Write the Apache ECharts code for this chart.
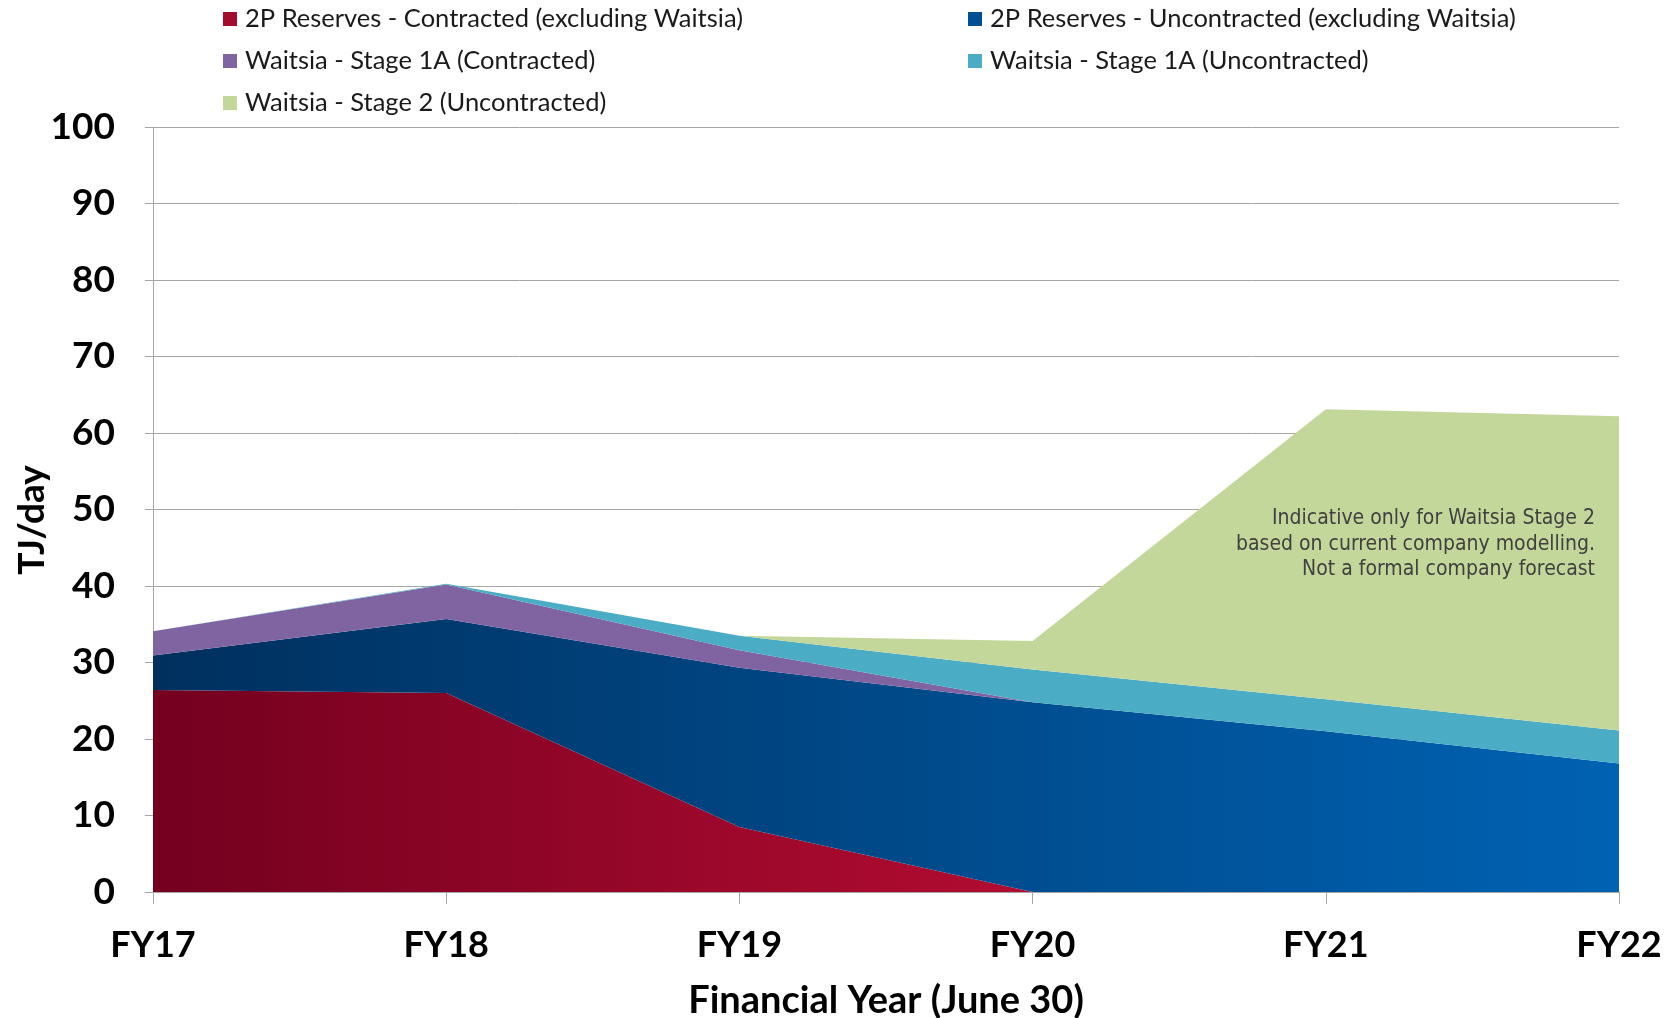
<!DOCTYPE html>
<html>
<head>
<meta charset="utf-8">
<script src="https://cdn.jsdelivr.net/npm/echarts@6/dist/echarts.min.js"></script>
<style>
  html, body { margin: 0; padding: 0; background: #fff; }
  #gas-chart { width: 1670px; height: 1018px; }
</style>
</head>
<body>
<div id="gas-chart"></div>
<script>
// 数据
const years = ["FY17", "FY18", "FY19", "FY20", "FY21", "FY22"];
const contracted2P = [26.4, 26.0, 8.5, 0, 0, 0];
const uncontracted2P = [4.5, 9.7, 20.8, 24.8, 21.0, 16.8];
const stage1AContracted = [3.2, 4.5, 2.3, 0, 0, 0];
const stage1AUncontracted = [0, 0.1, 1.9, 4.3, 4.2, 4.3];
const stage2Uncontracted = [0, 0, 0, 3.7, 37.9, 41.1];
const yTicks = [0, 10, 20, 30, 40, 50, 60, 70, 80, 90, 100];

const names = [
  "2P Reserves - Contracted (excluding Waitsia)",
  "2P Reserves - Uncontracted (excluding Waitsia)",
  "Waitsia - Stage 1A (Contracted)",
  "Waitsia - Stage 1A (Uncontracted)",
  "Waitsia - Stage 2 (Uncontracted)",
];

const note = [
  "Indicative only for Waitsia Stage 2",
  "based on current company modelling.",
  "Not a formal company forecast",
];

const tickFont = "Lato, 'Open Sans', sans-serif";
const gridColor = "#a6a6a6";

const grad = (stops) =>
  new echarts.graphic.LinearGradient(0, 0, 1, 0, stops.map((c) => ({ offset: c[0], color: c[1] })));

const area = (name, data, legendColor, fill) => ({
  name,
  type: "line",
  stack: "total",
  data,
  symbol: "none",
  showSymbol: false,
  lineStyle: { width: 0 },
  itemStyle: { color: legendColor },
  areaStyle: { color: fill, opacity: 1 },
  emphasis: { disabled: true },
});

const legendBase = {
  orient: "vertical",
  top: 1,
  icon: "rect",
  itemWidth: 14,
  itemHeight: 14,
  itemGap: 16,
  selectedMode: false,
  textStyle: { fontFamily: tickFont, fontSize: 25.5, color: "#1a1a1a", padding: [0, 0, 0, 3] },
};

const chart = echarts.init(document.getElementById("gas-chart"));
chart.setOption({
  animation: false,
  grid: { left: 153, right: 51, top: 127, bottom: 126, outerBoundsMode: "none" },
  legend: [
    { ...legendBase, left: 218, data: [names[0], names[2], names[4]] },
    { ...legendBase, left: 963, data: [names[1], names[3]] },
  ],
  xAxis: {
    type: "category",
    data: years,
    boundaryGap: false,
    name: "Financial Year (June 30)",
    nameLocation: "middle",
    nameGap: 90,
    nameTextStyle: { fontFamily: tickFont, fontWeight: "bold", fontSize: 38, color: "#000" },
    axisLine: { lineStyle: { color: gridColor, width: 1 } },
    axisTick: { alignWithLabel: true, length: 12, lineStyle: { color: gridColor } },
    axisLabel: { margin: 35, fontFamily: tickFont, fontWeight: "bold", fontSize: 36, color: "#000" },
  },
  yAxis: {
    type: "value",
    min: yTicks[0],
    max: yTicks[yTicks.length - 1],
    interval: 10,
    axisLine: { show: true, lineStyle: { color: gridColor, width: 1 } },
    axisTick: { show: true, length: 8, lineStyle: { color: gridColor } },
    splitLine: { lineStyle: { color: gridColor, width: 1 } },
    axisLabel: { margin: 38, fontFamily: tickFont, fontWeight: "bold", fontSize: 37, color: "#000" },
  },
  series: [
    area(names[0], contracted2P, "#a30c2e",
      grad([[0, "#74001f"], [0.6, "#b20c31"], [1, "#bd0f35"]])),
    area(names[1], uncontracted2P, "#004f92",
      grad([[0, "#00305e"], [1, "#0062b3"]])),
    area(names[2], stage1AContracted, "#8064a2", "#8064a2"),
    area(names[3], stage1AUncontracted, "#4bacc6", "#4bacc6"),
    area(names[4], stage2Uncontracted, "#c4d79b", "#c4d79b"),
  ],
  graphic: [
    {
      type: "text",
      x: 32,
      y: 520,
      rotation: Math.PI / 2,
      z: 100,
      style: {
        text: "TJ/day",
        textAlign: "center",
        textVerticalAlign: "middle",
        font: "bold 37px Lato, 'Open Sans', sans-serif",
        fill: "#000",
      },
    },
    ...note.map((line, i) => ({
      type: "text",
      x: 1595,
      y: 519 + i * 25.5,
      z: 100,
      style: {
        text: line,
        textAlign: "right",
        textVerticalAlign: "middle",
        font: "21px 'Liberation Sans Narrow', 'DejaVu Sans Condensed', 'Liberation Sans', sans-serif",
        fill: "#404040",
      },
    })),
  ],
});
</script>
</body>
</html>
